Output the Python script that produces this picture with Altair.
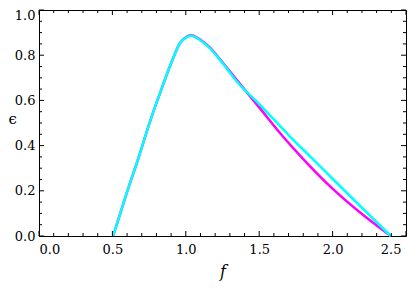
import altair as alt
import pandas as pd
import numpy as np

# Cyan curve
f_cyan = [0.505, 0.586, 0.677, 0.756, 0.836, 0.904, 0.960, 1.000, 1.035, 1.097, 1.165, 1.250, 1.358, 1.500, 1.710, 1.850, 2.005, 2.200, 2.396]
eps_cyan = [0.0, 0.167, 0.344, 0.506, 0.653, 0.771, 0.853, 0.878, 0.886, 0.867, 0.830, 0.765, 0.676, 0.584, 0.440, 0.350, 0.250, 0.125, 0.0]

# Magenta curve
f_mag = [0.505, 0.586, 0.677, 0.756, 0.836, 0.904, 0.960, 1.000, 1.035, 1.097, 1.165, 1.233, 1.360, 1.500, 1.653, 1.778, 2.005, 2.200, 2.396]
eps_mag = [0.0, 0.167, 0.344, 0.506, 0.653, 0.771, 0.853, 0.879, 0.888, 0.869, 0.834, 0.782, 0.680, 0.569, 0.447, 0.356, 0.206, 0.097, 0.0]

x_major = [0.0, 0.5, 1.0, 1.5, 2.0, 2.5]
x_minor = [round(v, 2) for v in np.arange(0.1, 2.5, 0.1) if abs(v * 2 - round(v * 2)) > 1e-6]
y_major = [0.0, 0.2, 0.4, 0.6, 0.8, 1.0]
y_minor = [round(v, 3) for v in np.arange(0.05, 1.0, 0.05) if abs(v * 5 - round(v * 5)) > 1e-6]

W, H = 367, 226
FONT = "DejaVu Serif"

xs = alt.Scale(domain=[0, 2.5], nice=False, zero=False)
ys = alt.Scale(domain=[0, 1], nice=False, zero=False)

df_c = pd.DataFrame({"f": f_cyan, "eps": eps_cyan})
df_m = pd.DataFrame({"f": f_mag, "eps": eps_mag})

xaxis = alt.Axis(values=x_major, format=".1f", tickSize=0, domain=False, grid=False,
                 labelPadding=7, labelFont=FONT, labelFontSize=13, labelColor="black",
                 labelOffset={"condition": {"test": "datum.value >= 2.5", "value": -5}, "value": 0},
                 title="f", titleFont=FONT, titleFontStyle="italic", titleFontWeight="normal",
                 titleFontSize=16, titleColor="black",
                 titleY=40, titleBaseline="alphabetic")
yaxis = alt.Axis(values=y_major, format=".1f", tickSize=0, domain=False, grid=False,
                 labelPadding=4, labelFont=FONT, labelFontSize=13, labelColor="black",
                 labelOffset={"condition": {"test": "datum.value >= 1", "value": 5}, "value": 0},
                 title="ϵ", titleFont=FONT, titleFontWeight="normal", titleColor="black",
                 titleAngle=0, titleFontSize=15,
                 titleX=-31, titleY=108, titleAlign="left", titleBaseline="middle")

mag = alt.Chart(df_m).mark_line(color="#FF00FF", strokeWidth=2.5, interpolate="monotone").encode(
    x=alt.X("f:Q", scale=xs, axis=xaxis),
    y=alt.Y("eps:Q", scale=ys, axis=yaxis),
    order="f:Q",
)
cyan = alt.Chart(df_c).mark_line(color="#00FFFF", strokeWidth=2.5, interpolate="monotone").encode(
    x=alt.X("f:Q", scale=xs),
    y=alt.Y("eps:Q", scale=ys),
    order="f:Q",
)

def xticks(vals, y0, y1):
    return alt.Chart(pd.DataFrame({"v": vals})).mark_rule(color="black", strokeWidth=1).encode(
        x=alt.X("v:Q", scale=xs), y=alt.value(y0), y2=alt.value(y1))

def yticks(vals, x0, x1):
    return alt.Chart(pd.DataFrame({"v": vals})).mark_rule(color="black", strokeWidth=1).encode(
        y=alt.Y("v:Q", scale=ys), x=alt.value(x0), x2=alt.value(x1))

ticks = [
    xticks(x_major, H, H - 5), xticks(x_minor, H, H - 3),
    xticks(x_major, 0, 5), xticks(x_minor, 0, 3),
    yticks(y_major, 0, 5), yticks(y_minor, 0, 3),
    yticks(y_major, W, W - 5), yticks(y_minor, W, W - 3),
]

chart = alt.layer(mag, cyan, *ticks).properties(
    width=W, height=H,
    autosize=alt.AutoSizeParams(type="none"),
    padding={"left": 31, "top": 2, "right": 3, "bottom": 45},
).configure(background="white", font=FONT).configure_view(stroke="black", strokeWidth=1).configure_axis(
    labelFont=FONT, labelFontSize=13, labelColor="black",
    titleFont=FONT, titleFontWeight="normal", titleColor="black",
)

chart.save("out.html", embed_options={"renderer": "svg", "actions": False})
